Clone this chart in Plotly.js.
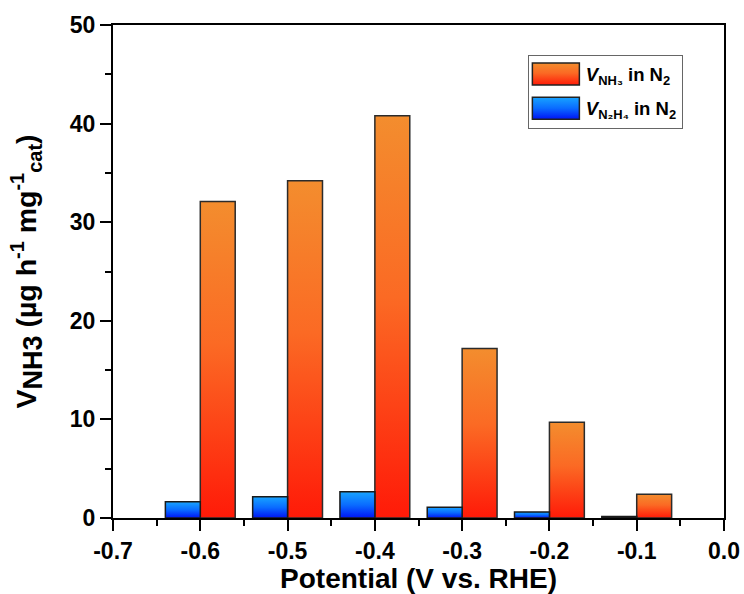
<!DOCTYPE html>
<html>
<head>
<meta charset="utf-8">
<script src="https://cdn.plot.ly/plotly-3.0.1.min.js"></script>
<style>
  html, body { margin: 0; padding: 0; background: #fff; }
  #chart { width: 744px; height: 594px; }
</style>
</head>
<body>
<div id="chart"></div>
<script>
// Data
const potentials = [-0.6, -0.5, -0.4, -0.3, -0.2, -0.1];
const nh3Yield = [32.1, 34.2, 40.8, 17.2, 9.7, 2.4];
const n2h4Yield = [1.65, 2.15, 2.65, 1.1, 0.6, 0.15];
const seriesNames = [
  '<i>V</i><sub>NH₃</sub> in N<sub>2</sub>',
  '<i>V</i><sub>N₂H₄</sub> in N<sub>2</sub>'
];
const xTickVals = [-0.7, -0.6, -0.5, -0.4, -0.3, -0.2, -0.1, 0.0];
const xTickText = ['-0.7', '-0.6', '-0.5', '-0.4', '-0.3', '-0.2', '-0.1', '0.0'];
const yTickVals = [0, 10, 20, 30, 40, 50];

const FONT = 'Liberation Sans, Arial, Helvetica, sans-serif';

const data = [
  {
    type: 'bar', name: seriesNames[0], x: potentials, y: nh3Yield,
    width: 0.04, offset: 0, legendgroup: 'a',
    marker: { color: '#fa5a20', line: { color: '#2b2b2b', width: 1.5 } }
  },
  {
    type: 'bar', name: seriesNames[1], x: potentials, y: n2h4Yield,
    width: 0.04, offset: -0.04, legendgroup: 'b',
    marker: { color: '#0a70ff', line: { color: '#1a1a1a', width: 1.5 } }
  }
];

const axisCommon = {
  showgrid: false, zeroline: false, showline: true, linecolor: '#000', linewidth: 2,
  mirror: true, ticks: 'outside', ticklen: 11, tickwidth: 2, tickcolor: '#000',
  tickfont: { family: FONT, size: 23, color: '#000', weight: 'bold' }
};

const layout = {
  width: 744, height: 594,
  margin: { l: 113, r: 20, t: 25, b: 76 },
  paper_bgcolor: '#fff', plot_bgcolor: '#fff',
  barmode: 'overlay',
  showlegend: true,
  legend: {
    x: 0.679, y: 0.94, xanchor: 'left', yanchor: 'top',
    bgcolor: '#fff', bordercolor: '#666', borderwidth: 1,
    font: { family: FONT, size: 18.5, color: '#000', weight: 'bold' },
    itemwidth: 47, tracegroupgap: 7, traceorder: 'grouped'
  },
  xaxis: Object.assign({}, axisCommon, {
    range: [-0.7, 0.0], tickmode: 'array', tickvals: xTickVals, ticktext: xTickText,
    minor: { dtick: 0.05, tick0: 0, ticks: 'outside', ticklen: 6, tickwidth: 2, tickcolor: '#000' },
    title: { text: 'Potential (V vs. RHE)', standoff: 8,
      font: { family: FONT, size: 28, color: '#000', weight: 'bold' } }
  }),
  yaxis: Object.assign({}, axisCommon, {
    range: [0, 50], tickmode: 'array', tickvals: yTickVals,
    minor: { dtick: 5, tick0: 0, ticks: 'outside', ticklen: 6, tickwidth: 2, tickcolor: '#000' },
    title: { text: 'V<sub><span style="font-size:27px">NH3</span></sub> (µg h<sup>-1</sup> mg<sup>-1</sup><sub>cat</sub>)', standoff: 25,
      font: { family: FONT, size: 28.5, color: '#000', weight: 'bold' } }
  })
};

function makeGradient(defs, id, stops) {
  const ns = 'http://www.w3.org/2000/svg';
  const g = document.createElementNS(ns, 'linearGradient');
  g.setAttribute('id', id);
  g.setAttribute('x1', '0'); g.setAttribute('y1', '0');
  g.setAttribute('x2', '0'); g.setAttribute('y2', '1');
  stops.forEach(([off, col]) => {
    const s = document.createElementNS(ns, 'stop');
    s.setAttribute('offset', off);
    s.setAttribute('stop-color', col);
    g.appendChild(s);
  });
  defs.appendChild(g);
}

Plotly.newPlot('chart', data, layout, { staticPlot: true, displayModeBar: false }).then(gd => {
  const svg = gd.querySelector('svg.main-svg');
  let defs = svg.querySelector('defs');
  if (!defs) { defs = document.createElementNS('http://www.w3.org/2000/svg', 'defs'); svg.insertBefore(defs, svg.firstChild); }
  makeGradient(defs, 'gradOrange', [['0', '#f38d2e'], ['0.45', '#fb6a24'], ['1', '#ff1a08']]);
  makeGradient(defs, 'gradBlue', [['0', '#18a4ff'], ['0.5', '#0a6cff'], ['1', '#0014f5']]);
  const grads = ['url(#gradOrange)', 'url(#gradBlue)'];
  gd.querySelectorAll('.barlayer .trace').forEach((tr, i) => {
    tr.querySelectorAll('path').forEach(p => { p.style.fill = grads[i]; });
  });
  gd.querySelectorAll('.legend .traces').forEach((tr, i) => {
    tr.querySelectorAll('.legendpoints path').forEach(p => {
      p.setAttribute('d', 'M-25,-11H22V11H-25Z');
      p.style.fill = grads[i];
      p.style.stroke = '#222';
      p.style.strokeWidth = '1.5px';
    });
  });
});
</script>
</body>
</html>
